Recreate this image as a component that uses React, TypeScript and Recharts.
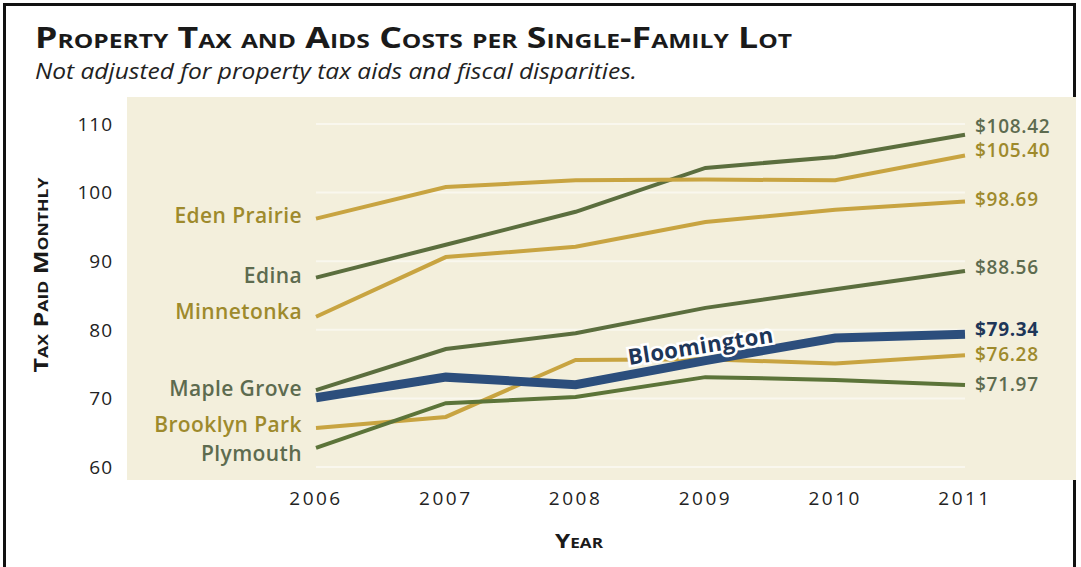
import React from 'react'
import { LineChart, Line, XAxis, YAxis, CartesianGrid } from 'recharts'

// values (tax paid monthly, $)
const years = ['2006', '2007', '2008', '2009', '2010', '2011']
const edenPrairie = [96.2, 100.8, 101.8, 101.9, 101.8, 105.4]
const edina = [87.6, 92.4, 97.2, 103.6, 105.2, 108.42]
const minnetonka = [81.9, 90.6, 92.1, 95.7, 97.5, 98.69]
const mapleGrove = [71.2, 77.2, 79.5, 83.2, 85.9, 88.56]
const brooklynPark = [65.7, 67.3, 75.6, 75.7, 75.1, 76.28]
const plymouth = [62.8, 69.3, 70.2, 73.1, 72.7, 71.97]
const bloomington = [70.1, 73.1, 72.0, 75.5, 78.8, 79.34]
const yTicks = [60, 70, 80, 90, 100, 110]

const data = years.map((year, i) => ({
  year,
  edenPrairie: edenPrairie[i],
  edina: edina[i],
  minnetonka: minnetonka[i],
  mapleGrove: mapleGrove[i],
  brooklynPark: brooklynPark[i],
  plymouth: plymouth[i],
  bloomington: bloomington[i],
}))

const GOLD = '#c8a441'
const GOLD_TEXT = '#9e8a2c'
const GREEN = '#5b6e3e'
const GREEN_TEXT = '#5d6b4f'
const NAVY = '#2c4e7c'
const NAVY_TEXT = '#1e3658'

const FONT = '"Open Sans", sans-serif'

// name, colours and nudges for the end labels
const series = [
  { key: 'edina', name: 'Edina', stroke: GREEN, text: GREEN_TEXT, leftDy: -3, rightDy: -9 },
  { key: 'edenPrairie', name: 'Eden Prairie', stroke: GOLD, text: GOLD_TEXT, leftDy: -4, rightDy: -6 },
  { key: 'minnetonka', name: 'Minnetonka', stroke: GOLD, text: GOLD_TEXT, leftDy: -6, rightDy: -3 },
  { key: 'mapleGrove', name: 'Maple Grove', stroke: GREEN, text: GREEN_TEXT, leftDy: -2, rightDy: -4 },
  { key: 'brooklynPark', name: 'Brooklyn Park', stroke: GOLD, text: GOLD_TEXT, leftDy: -4, rightDy: -1 },
  { key: 'plymouth', name: 'Plymouth', stroke: '#5c7439', text: GREEN_TEXT, leftDy: 5, rightDy: -1 },
]

const last = years.length - 1

function endLabels(name: string, color: string, leftDy: number, rightDy: number, bold = false) {
  return (p: any) => {
    const { cx, cy, index, value } = p
    if (index === 0 && name) {
      return (
        <text key={`l-${index}`} x={cx - 14} y={cy + leftDy} textAnchor="end" dominantBaseline="central"
          fill={color} fontFamily={FONT} fontWeight={600} fontSize={21} letterSpacing={0.4}>
          {name}
        </text>
      )
    }
    if (index === last) {
      return (
        <text key={`r-${index}`} x={cx + 10} y={cy + rightDy} textAnchor="start" dominantBaseline="central"
          fill={color} fontFamily={FONT} fontWeight={bold ? 700 : 600} fontSize={19} letterSpacing={0.7}>
          {`$${Number(value).toFixed(2)}`}
        </text>
      )
    }
    return <g key={`n-${index}`} />
  }
}

function bloomingtonDot(p: any) {
  const { cx, cy, index } = p
  if (index === 3) {
    const lx = cx - 5
    const ly = cy - 16
    return (
      <text key="bl" x={lx} y={ly} textAnchor="middle" dominantBaseline="central"
        transform={`rotate(-9 ${lx} ${ly})`} fill={NAVY_TEXT} stroke="#ffffff" strokeWidth={5}
        paintOrder="stroke" fontFamily={FONT} fontWeight={700} fontSize={22} letterSpacing={0.5}>
        Bloomington
      </text>
    )
  }
  return endLabels('', NAVY_TEXT, 0, -5, true)(p)
}

export default function App() {
  return (
    <div style={{ position: 'absolute', left: 0, top: 0, width: 1081, height: 567, background: '#fff', overflow: 'hidden', fontFamily: FONT }}>
      <div style={{ position: 'absolute', left: 3, top: 3, width: 1073, height: 620, border: '3px solid #111', boxSizing: 'border-box' }} />
      <div style={{ position: 'absolute', left: 127, top: 97, width: 949, height: 383, background: '#f3efdc' }} />

      <div style={{ position: 'absolute', left: 0, top: 0 }}>
        <LineChart width={1081} height={567} data={data} margin={{ top: 124, right: 116, bottom: 70, left: 16 }}>
          <CartesianGrid horizontal vertical={false} stroke="#ffffff" strokeWidth={2} strokeOpacity={0.5} />
          <XAxis dataKey="year" height={30} axisLine={false} tickLine={false} tickSize={0} tickMargin={25}
            tick={{ fill: '#222', fontSize: 19, fontFamily: FONT, letterSpacing: 2.5 }} />
          <YAxis type="number" domain={[60, 110]} ticks={yTicks} width={300} axisLine={false} tickLine={false}
            tickSize={0} tickMargin={203} tick={{ fill: '#222', fontSize: 19, fontFamily: FONT, letterSpacing: 1 }} />
          {series.map((s) => (
            <Line key={s.key} type="linear" dataKey={s.key} stroke={s.stroke} strokeWidth={4}
              dot={endLabels(s.name, s.text, s.leftDy, s.rightDy)} activeDot={false} isAnimationActive={false} />
          ))}
          <Line type="linear" dataKey="bloomington" stroke={NAVY} strokeWidth={9} dot={bloomingtonDot}
            activeDot={false} isAnimationActive={false} />
        </LineChart>
      </div>

      <svg width={1081} height={567} style={{ position: 'absolute', left: 0, top: 0, pointerEvents: 'none' }}>
        <text x={35} y={48} fontFamily={FONT} fontSize={29} fontWeight={700} fill="#1a1a1a"
          style={{ fontVariant: 'small-caps' }} textLength={757} lengthAdjust="spacingAndGlyphs">
          Property Tax and Aids Costs per Single-Family Lot
        </text>
        <text x={35} y={79} fontFamily={FONT} fontSize={22} fontStyle="italic" fill="#222"
          textLength={602} lengthAdjust="spacingAndGlyphs">
          Not adjusted for property tax aids and fiscal disparities.
        </text>
        <text x={48} y={275} transform="rotate(-90 48 275)" textAnchor="middle" fontFamily={FONT} fontSize={20}
          fontWeight={700} fill="#1a1a1a" style={{ fontVariant: 'small-caps' }} textLength={195}
          lengthAdjust="spacingAndGlyphs">
          Tax Paid Monthly
        </text>
        <text x={579} y={548} textAnchor="middle" fontFamily={FONT} fontSize={20} fontWeight={700} fill="#1a1a1a"
          style={{ fontVariant: 'small-caps' }} textLength={48} lengthAdjust="spacingAndGlyphs">
          Year
        </text>
      </svg>
    </div>
  )
}
